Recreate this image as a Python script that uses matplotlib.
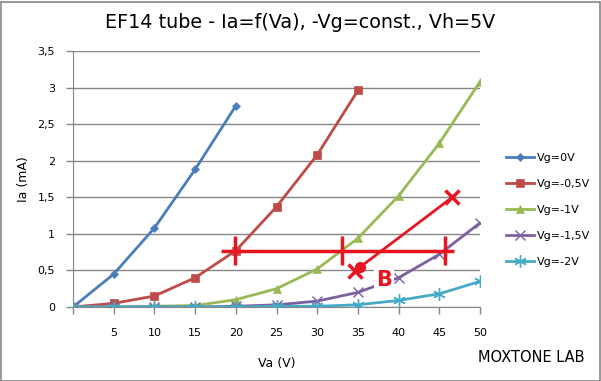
import numpy as np
import matplotlib
matplotlib.use("agg")
import matplotlib.pyplot as plt

# anode voltage categories (V)
va = [0, 5, 10, 15, 20, 25, 30, 35, 40, 45, 50]
xlabels = ["", "5", "10", "15", "20", "25", "30", "35", "40", "45", "50"]

# anode current (mA) for each grid voltage
ia_0 = [0, 0.45, 1.08, 1.88, 2.75]
ia_05 = [0, 0.05, 0.15, 0.40, 0.77, 1.37, 2.08, 2.96]
ia_1 = [0, 0.0, 0.01, 0.02, 0.10, 0.25, 0.52, 0.94, 1.52, 2.24, 3.08]
ia_15 = [0, 0.0, 0.0, 0.0, 0.01, 0.03, 0.08, 0.20, 0.40, 0.72, 1.15]
ia_2 = [0, 0.0, 0.0, 0.0, 0.0, 0.01, 0.01, 0.03, 0.09, 0.18, 0.35]

# red hand-drawn load-line annotation
hline_x = [18.2, 46.8]
hline_y = 0.76
tick_x = [19.9, 33.0, 45.7]
tick_y = [0.575, 0.97]
diag_x = [34.6, 46.6]
diag_y = [0.49, 1.50]
dot = (35.3, 0.55)

fig = plt.figure(figsize=(6.01, 3.81), dpi=100)
ax = fig.add_axes([73/601, 1-307/381, (480-73)/601, (307-51)/381])

series = [
    ("Vg=0V", ia_0, "#4a7ebb", "D", 4.5),
    ("Vg=-0,5V", ia_05, "#be4b48", "s", 5.5),
    ("Vg=-1V", ia_1, "#98b954", "^", 6),
    ("Vg=-1,5V", ia_15, "#7d60a0", "x", 7),
    ("Vg=-2V", ia_2, "#46aac5", (6, 2, 0), 9),
]
for lab, ys, col, mk, ms in series:
    mew = 1.0 if mk in ("x", (6, 2, 0)) else 0.5
    ax.plot(va[:len(ys)], ys, color=col, lw=2.0, marker=mk, ms=ms,
            mew=mew, mec=col, mfc=col, label=lab, zorder=3)

# annotation
red = "#e8141f"
ax.plot(hline_x, [hline_y, hline_y], color=red, lw=2.5, zorder=5, solid_capstyle="butt")
for tx in tick_x:
    ax.plot([tx, tx], tick_y, color=red, lw=2.5, zorder=5, solid_capstyle="butt")
ax.plot(diag_x, diag_y, color=red, lw=2.0, zorder=5)
ax.plot(diag_x, diag_y, ls="none", marker="x", ms=9.5, mew=2.5, color=red, zorder=5)
ax.plot([dot[0]], [dot[1]], ls="none", marker="o", ms=7, color=red, zorder=6)
ax.text(37.2, 0.37, "B", color=red, fontsize=15, fontweight="bold",
        ha="left", va="center", zorder=4,
        bbox=dict(facecolor="white", edgecolor="none", pad=1.5))

ax.set_xlim(0, 50)
ax.set_ylim(0, 3.5)
ax.set_xticks(va)
ax.set_xticklabels(xlabels)
yt = np.arange(0, 3.51, 0.5)
ax.set_yticks(yt)
ax.set_yticklabels(["0", "0,5", "1", "1,5", "2", "2,5", "3", "3,5"])
ax.grid(axis="y", color="#868686", lw=1)
ax.set_axisbelow(True)
for s in ["top", "right"]:
    ax.spines[s].set_visible(False)
for s in ["left", "bottom"]:
    ax.spines[s].set_color("#868686")
ax.tick_params(axis="both", colors="#868686", labelcolor="black", labelsize=8,
               length=5, width=1)
ax.tick_params(axis="x", pad=10)
ax.tick_params(axis="y", pad=8)

ax.set_xlabel("Va (V)", fontsize=9)
ax.xaxis.set_label_coords(0.5, -50/256)
ax.set_ylabel("Ia (mA)", fontsize=9)
ax.yaxis.set_label_coords(-43/407, 0.5)

fig.text(300/601, 1-22/381, "EF14 tube - Ia=f(Va), -Vg=const., Vh=5V",
         fontsize=13.8, ha="center", va="center")
fig.text(531/601, 1-357/381, "MOXTONE LAB", fontsize=10.5, ha="center", va="center")

leg = ax.legend(loc="center left", bbox_to_anchor=(496/601, 1-210/381),
                bbox_transform=fig.transFigure, frameon=False, fontsize=8,
                handlelength=2.5, labelspacing=1.45, handletextpad=0.3)

fig.patches.append(plt.Rectangle((0.5/601, 0.5/381), 599/601, 379/381,
                                 transform=fig.transFigure, fill=False,
                                 edgecolor="#868686", lw=1.2))

fig.savefig("out.png", dpi=100)
